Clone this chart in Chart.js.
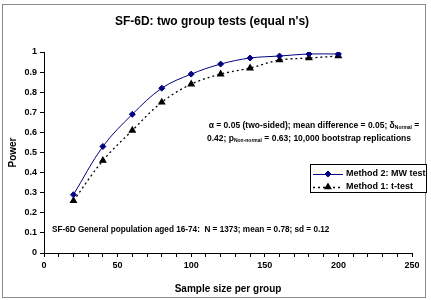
<!DOCTYPE html>
<html>
<head>
<meta charset="utf-8">
<script src="https://cdn.jsdelivr.net/npm/chart.js@4.4.0/dist/chart.umd.min.js"></script>
<style>
  html, body { margin: 0; padding: 0; background: #fff; }
  #wrap { width: 431px; height: 300px; }
</style>
</head>
<body>
<div id="wrap"><canvas id="chart" width="431" height="300"></canvas></div>
<script>
// sample size per group
const sampleSizes = [20, 40, 60, 80, 100, 120, 140, 160, 180, 200];
// power
const powerMW = [0.29, 0.53, 0.69, 0.82, 0.89, 0.94, 0.97, 0.98, 0.99, 0.99];
const powerT = [0.26, 0.46, 0.61, 0.75, 0.84, 0.89, 0.92, 0.96, 0.97, 0.98];
const seriesNames = ["Method 2: MW test", "Method 1: t-test"];

const FONT = "'Liberation Sans', Arial, sans-serif";

// draws text with subscript pieces, centred on cx
function drawRich(ctx, parts, cx, y, size) {
  const big = "bold " + size + "px " + FONT;
  const small = "bold " + Math.round(size * 0.62) + "px " + FONT;
  let w = 0;
  parts.forEach(p => { ctx.font = p.sub ? small : big; w += ctx.measureText(p.t).width; });
  let x = cx - w / 2;
  ctx.textAlign = "left";
  ctx.textBaseline = "middle";
  parts.forEach(p => {
    ctx.font = p.sub ? small : big;
    ctx.fillText(p.t, x, p.sub ? y + 2 : y);
    x += ctx.measureText(p.t).width;
  });
}

const decor = {
  id: "decor",
  afterDraw(chart) {
    const ctx = chart.ctx;
    ctx.save();
    // outer frame
    ctx.strokeStyle = "#8a8a8a";
    ctx.lineWidth = 1;
    ctx.strokeRect(2.5, 4.5, 423, 293);

    ctx.fillStyle = "#000";
    ctx.textAlign = "center";
    ctx.textBaseline = "middle";
    ctx.font = "bold 12px " + FONT;
    ctx.fillText("SF-6D: two group tests (equal n's)", 212, 22);

    drawRich(ctx, [
      { t: "\u03b1 = 0.05 (two-sided); mean difference = 0.05; \u03b4" },
      { t: "Normal", sub: true },
      { t: " =" }
    ], 314, 126, 8.5);
    drawRich(ctx, [
      { t: "0.42; p" },
      { t: "Non-normal", sub: true },
      { t: " = 0.63; 10,000 bootstrap replications" }
    ], 309, 139, 8.5);

    ctx.font = "bold 8.2px " + FONT;
    ctx.textAlign = "left";
    ctx.fillText("SF-6D General population aged 16-74:  N = 1373; mean = 0.78; sd = 0.12", 52, 230);

    // legend box
    ctx.fillStyle = "#fff";
    ctx.fillRect(310, 164, 117, 29);
    ctx.strokeStyle = "#000";
    ctx.strokeRect(310.5, 164.5, 116, 28);
    const rows = [174, 187];
    chart.data.datasets.forEach((ds, i) => {
      const y = rows[i];
      ctx.strokeStyle = ds.borderColor;
      ctx.lineWidth = ds.borderWidth;
      ctx.setLineDash(ds.borderDash || []);
      ctx.beginPath();
      ctx.moveTo(313, y + 0.5);
      ctx.lineTo(343, y + 0.5);
      ctx.stroke();
      ctx.setLineDash([]);
      ctx.fillStyle = ds.pointBackgroundColor;
      ctx.strokeStyle = ds.pointBorderColor;
      Chart.helpers.drawPoint(ctx, {
        pointStyle: ds.pointStyle, radius: ds.pointRadius, borderWidth: 1
      }, 328, y);
      ctx.fillStyle = "#000";
      ctx.font = "bold 9px " + FONT;
      ctx.textBaseline = "middle";
      ctx.fillText(ds.label, 346, y);
    });
    ctx.restore();
  }
};

new Chart(document.getElementById("chart"), {
  type: "line",
  data: {
    datasets: [
      {
        label: seriesNames[0],
        data: sampleSizes.map((x, i) => ({ x, y: powerMW[i] })),
        borderColor: "#000080",
        backgroundColor: "#000080",
        pointBackgroundColor: "#000080",
        pointBorderColor: "#000080",
        borderWidth: 1,
        pointStyle: "rectRot",
        pointRadius: 3,
        tension: 0.35,
        fill: false
      },
      {
        label: seriesNames[1],
        data: sampleSizes.map((x, i) => ({ x, y: powerT[i] })),
        borderColor: "#000",
        backgroundColor: "#000",
        pointBackgroundColor: "#000",
        pointBorderColor: "#000",
        borderWidth: 1.3,
        borderDash: [2, 3],
        pointStyle: "triangle",
        pointRadius: 3.3,
        tension: 0.35,
        fill: false
      }
    ]
  },
  options: {
    responsive: false,
    animation: false,
    layout: { padding: { top: 52, right: 19, bottom: 0, left: 0 } },
    plugins: {
      legend: { display: false },
      tooltip: { enabled: false },
      title: { display: false }
    },
    scales: {
      x: {
        type: "linear",
        min: 0,
        max: 250,
        afterFit(scale) { scale.height = 47; },
        ticks: {
          stepSize: 10,
          autoSkip: false,
          maxRotation: 0,
          padding: 3,
          color: "#000",
          font: { family: FONT, size: 9, weight: "bold" },
          callback: v => (v % 50 === 0 ? String(v) : "")
        },
        grid: { drawOnChartArea: false, tickLength: 4, color: "#000" },
        border: { color: "#000" },
        title: {
          display: true,
          text: "Sample size per group",
          color: "#000",
          font: { family: FONT, size: 10, weight: "bold" },
          padding: { top: 0, bottom: 5 }
        }
      },
      y: {
        min: 0,
        max: 1,
        afterFit(scale) { scale.width = 44; },
        ticks: {
          stepSize: 0.1,
          padding: 3,
          color: "#000",
          font: { family: FONT, size: 9, weight: "bold" },
          callback: v => String(Math.round(v * 10) / 10)
        },
        grid: { drawOnChartArea: false, tickLength: 4, color: "#000" },
        border: { color: "#000" },
        title: {
          display: true,
          text: "Power",
          color: "#000",
          font: { family: FONT, size: 10, weight: "bold" },
          padding: { top: 7, bottom: 0 }
        }
      }
    }
  },
  plugins: [decor]
});
</script>
</body>
</html>
